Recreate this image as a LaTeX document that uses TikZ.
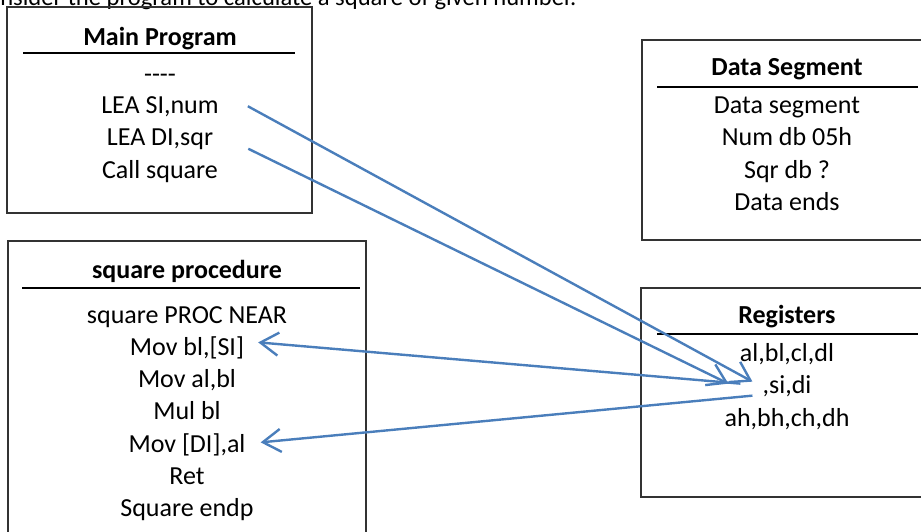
\documentclass[tikz,border=0pt]{standalone}
\usepackage{fontspec}
\setmainfont{Carlito}
\usetikzlibrary{arrows.meta}
\definecolor{linkblue}{RGB}{74,126,187}

\begin{document}
\begin{tikzpicture}[x=1pt,y=-1pt]
  \tikzstyle{txt}=[anchor=base, inner sep=0pt, font=\fontsize{26}{31}\selectfont]
  \tikzstyle{head}=[txt, font=\fontsize{26}{31}\selectfont\bfseries]
  \tikzstyle{frame}=[draw=black!80, line width=1.5pt]
  \tikzstyle{rule}=[draw=black, line width=1.8pt]
  \tikzstyle{link}=[draw=linkblue, line width=2.4pt, -{Straight Barb[length=18pt,width=23pt]}]

  \useasboundingbox (0,0) rectangle (921,531);

  \node[txt, anchor=base west, font=\fontsize{24.6}{29}\selectfont] (intro) at (-26,5.5) {Consider the program to calculate a square of given number.};

  % main program
  \draw[frame] (7,7) rectangle (312,213);
  \node[head] (main) at (160,45) {Main Program};
  \draw[rule] (23,53) -- (295,53);
  \node[txt] (dash)  at (160,82)  {-{}-{}-{}-};
  \node[txt] (leasi) at (160,113) {LEA SI,num};
  \node[txt] (leadi) at (160,145) {LEA DI,sqr};
  \node[txt] (call)  at (160,178) {Call square};

  % data segment
  \draw[frame] (642,40) rectangle (940,240);
  \node[head] (data) at (787,75) {Data Segment};
  \draw[rule] (657,87) -- (918,87);
  \node[txt] (dseg) at (787,113) {Data segment};
  \node[txt] (num)  at (787,145) {Num db 05h};
  \node[txt] (sqr)  at (787,178) {Sqr db ?};
  \node[txt] (dend) at (787,210) {Data ends};

  % square procedure
  \draw[frame] (8,241) rectangle (366,545);
  \node[head] (proc) at (187,278) {square procedure};
  \draw[rule] (22,288) -- (360,288);
  \node[txt] (pnear) at (187,323) {square PROC NEAR};
  \node[txt] (movbl) at (187,355) {Mov bl,[SI]};
  \node[txt] (moval) at (187,387) {Mov al,bl};
  \node[txt] (mul)   at (187,419) {Mul bl};
  \node[txt] (movdi) at (187,452) {Mov [DI],al};
  \node[txt] (ret)   at (187,484) {Ret};
  \node[txt] (endp)  at (187,516) {Square endp};

  % registers
  \draw[frame] (641,288) rectangle (940,497);
  \node[head] (regs) at (787,323) {Registers};
  \draw[rule] (657,334) -- (918,334);
  \node[txt] (low)  at (787,361) {al,bl,cl,dl};
  \node[txt] (sidi) at (787,393) {,si,di};
  \node[txt] (high) at (787,426) {ah,bh,ch,dh};

  % links
  \draw[link] ([xshift=29pt]leasi.east) -- ([xshift=-10pt,yshift=4pt]sidi.west);
  \draw[link] ([xshift=35pt,yshift=-10pt]leadi.east) -- ([xshift=-34pt,yshift=2pt]sidi.west);
  \draw[link] ([xshift=-22pt,yshift=2pt]sidi.west) -- ([xshift=14pt,yshift=5pt]movbl.east);
  \draw[link] ([xshift=-10pt,yshift=-10pt]sidi.west) -- ([xshift=15pt,yshift=2pt]movdi.east);
\end{tikzpicture}
\end{document}
